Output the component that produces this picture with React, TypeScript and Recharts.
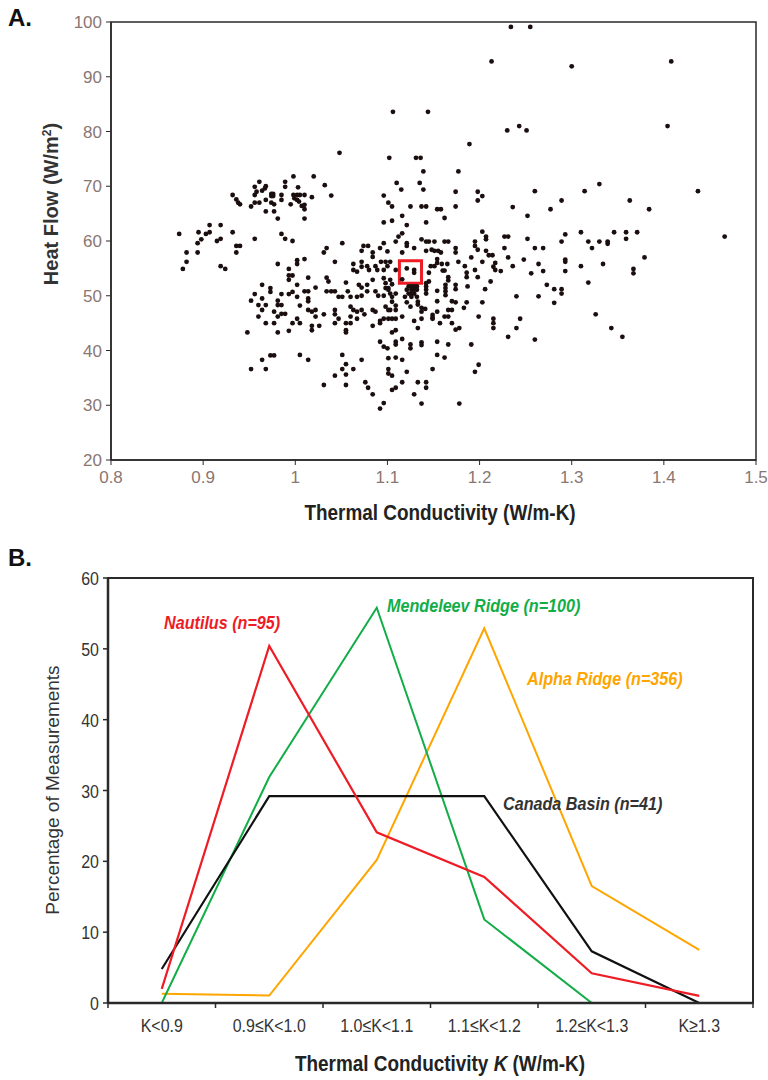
import React from 'react';
import { ScatterChart, Scatter, LineChart, Line, XAxis, YAxis, ReferenceArea } from 'recharts';

// ---- Panel A: thermal conductivity (W/m-K) vs heat flow ----
type Pt = [number, number];

const westUpper: Pt[] = [
  [0.874, 61.3], [0.882, 57.9], [0.882, 56.2], [0.878, 54.9], [0.895, 61.6], [0.894, 59.6], [0.894, 57.9],
  [0.898, 60.3], [0.903, 61.3], [0.907, 61.6], [0.907, 62.9], [0.915, 60.0], [0.919, 60.4], [0.919, 62.9],
  [0.932, 61.6], [0.936, 59.1], [0.94, 59.1], [0.936, 57.9], [0.919, 55.4], [0.924, 54.9], [0.956, 60.4],
  [0.932, 68.4], [0.936, 67.6], [0.938, 67.0], [0.94, 66.7], [0.952, 66.3], [0.956, 68.4], [0.958, 69.0],
  [0.961, 70.8], [0.956, 69.9], [0.956, 67.0], [0.961, 67.0], [0.964, 69.2], [0.967, 69.6], [0.968, 70.0],
  [0.968, 67.5], [0.968, 65.4], [0.974, 68.6], [0.976, 68.6], [0.974, 68.2], [0.976, 68.2], [0.974, 67.0],
  [0.977, 66.7], [0.977, 65.4], [0.981, 64.1], [0.985, 68.4], [0.985, 67.5], [0.989, 70.8], [0.989, 69.9],
  [0.995, 66.7], [0.998, 71.8], [0.998, 68.4], [0.999, 67.8], [0.985, 61.3], [0.989, 60.4], [0.997, 60.0],
  [0.981, 55.8], [0.993, 54.9], [0.993, 53.7], [0.997, 53.7], [0.993, 52.9], [0.964, 52.0], [0.973, 51.4],
];

const westLower: Pt[] = [
  [0.956, 50.3], [0.973, 50.7], [0.985, 50.3], [0.993, 50.3], [0.997, 50.7], [0.952, 49.1], [0.964, 49.5],
  [0.96, 48.3], [0.968, 48.3], [0.964, 47.4], [0.981, 49.1], [0.981, 48.3], [0.985, 48.3], [0.977, 47.1],
  [0.985, 46.7], [0.989, 46.7], [0.981, 46.2], [0.96, 46.2], [0.968, 45.0], [0.977, 45.0], [0.997, 45.0],
  [0.948, 43.3], [0.981, 43.3], [0.993, 43.6], [0.973, 39.1], [0.977, 39.1], [0.964, 38.3], [0.952, 36.6],
  [0.968, 36.6],
];

const centralUpper: Pt[] = [
  [1.002, 68.4], [1.005, 68.4], [1.01, 68.4], [1.002, 67.5], [1.004, 67.2], [1.007, 66.4], [1.01, 66.6],
  [1.01, 65.8], [1.018, 68.0], [1.039, 68.3], [1.096, 68.3], [1.101, 67.0], [1.105, 66.3], [1.01, 64.1],
  [1.096, 63.4], [1.105, 63.7], [1.051, 59.6], [1.034, 58.7], [1.031, 57.9], [1.043, 56.2], [1.074, 59.1],
  [1.079, 59.1], [1.072, 58.2], [1.084, 57.9], [1.084, 57.1], [1.096, 59.6], [1.092, 58.7], [1.1, 58.1],
  [1.109, 59.9], [1.112, 60.8], [1.002, 56.5], [1.01, 56.7], [1.002, 55.8], [1.063, 55.8], [1.072, 56.2],
  [1.078, 55.4], [1.087, 55.4], [1.093, 56.2], [1.098, 56.2], [1.103, 56.2], [1.063, 54.7], [1.067, 54.4],
  [1.072, 55.3], [1.08, 54.7], [1.089, 54.7], [1.096, 54.7], [1.1, 55.4], [1.109, 54.7], [1.014, 53.3],
  [1.034, 53.3], [1.036, 52.6], [1.055, 52.4], [1.069, 52.0], [1.072, 51.5], [1.078, 52.0], [1.084, 52.9],
  [1.096, 53.2], [1.098, 52.3], [1.103, 52.9], [1.105, 52.1], [1.098, 51.4], [1.101, 51.4], [1.002, 52.0],
  [1.022, 51.5], [1.01, 50.8], [1.014, 50.8], [1.034, 50.8], [1.039, 50.8], [1.043, 50.8], [1.047, 49.8],
  [1.051, 49.8], [1.057, 50.8], [1.06, 49.8], [1.067, 49.8], [1.072, 50.0], [1.078, 50.8], [1.087, 50.8],
  [1.09, 50.0], [1.096, 50.0], [1.101, 51.1], [1.103, 50.4], [1.109, 50.4], [1.105, 49.8], [1.002, 49.8],
  [1.014, 49.5],
];

const centralLower: Pt[] = [
  [1.005, 48.2], [1.014, 49.0], [1.014, 47.4], [1.018, 47.1], [1.022, 47.4], [1.022, 46.2], [1.031, 46.6],
  [1.002, 45.8], [1.005, 45.0], [1.018, 44.5], [1.018, 43.7], [1.026, 44.5], [1.043, 47.4], [1.043, 46.6],
  [1.047, 45.8], [1.043, 45.0], [1.055, 45.0], [1.06, 45.0], [1.055, 43.7], [1.055, 43.3], [1.06, 46.2],
  [1.06, 48.0], [1.063, 47.4], [1.067, 47.1], [1.067, 45.8], [1.072, 47.4], [1.075, 46.6], [1.084, 44.5],
  [1.084, 47.4], [1.087, 47.1], [1.092, 45.4], [1.092, 45.0], [1.096, 45.8], [1.101, 45.8], [1.105, 45.8],
  [1.109, 45.8], [1.103, 47.4], [1.109, 47.4], [1.101, 47.4], [1.098, 48.0], [1.105, 48.9], [1.109, 48.2],
  [1.109, 43.7], [1.105, 43.3], [1.109, 41.6], [1.109, 41.1], [1.092, 41.6], [1.096, 40.7], [1.1, 40.4],
  [1.005, 39.2], [1.014, 38.3], [1.051, 39.2], [1.072, 38.3], [1.055, 37.5], [1.051, 36.6], [1.055, 35.6],
  [1.063, 36.6], [1.043, 35.4], [1.101, 38.6], [1.109, 38.7], [1.101, 36.6], [1.101, 35.8], [1.105, 35.4],
  [1.031, 33.7], [1.055, 33.7], [1.076, 34.2], [1.079, 33.2], [1.084, 32.0], [1.105, 32.8], [1.109, 33.2],
  [1.096, 30.4], [1.092, 29.4],
];

const eastUpper: Pt[] = [
  [1.125, 66.3], [1.137, 66.3], [1.142, 66.3], [1.154, 65.8], [1.158, 65.8], [1.174, 66.3], [1.174, 69.0],
  [1.198, 69.0], [1.203, 68.2], [1.198, 67.4], [1.116, 64.6], [1.121, 62.9], [1.142, 63.4], [1.162, 64.2],
  [1.116, 61.4], [1.121, 59.6], [1.121, 59.1], [1.116, 57.9], [1.129, 58.7], [1.137, 60.3], [1.142, 59.9],
  [1.145, 59.9], [1.151, 59.9], [1.162, 59.9], [1.166, 59.9], [1.142, 58.2], [1.148, 58.4], [1.151, 58.2],
  [1.155, 58.2], [1.158, 57.9], [1.174, 58.7], [1.174, 57.9], [1.203, 61.7], [1.207, 60.8], [1.207, 60.3],
  [1.195, 59.9], [1.195, 59.1], [1.198, 58.4], [1.207, 58.2], [1.21, 57.4], [1.214, 57.4], [1.191, 57.0],
  [1.203, 56.2], [1.217, 56.0], [1.215, 55.3], [1.154, 56.7], [1.154, 56.0], [1.159, 55.8], [1.165, 55.8],
  [1.147, 55.4], [1.151, 55.4], [1.177, 56.2], [1.184, 55.4], [1.195, 54.7], [1.217, 54.7], [1.121, 55.0],
  [1.129, 54.7], [1.129, 54.2], [1.116, 53.0], [1.145, 54.2], [1.16, 54.6], [1.162, 54.6], [1.166, 53.4],
  [1.166, 52.8], [1.186, 54.2], [1.186, 53.4], [1.198, 53.4], [1.212, 52.6], [1.145, 52.6], [1.142, 52.3],
  [1.142, 51.7], [1.142, 51.1], [1.142, 50.4], [1.154, 50.9], [1.163, 52.0], [1.163, 51.4], [1.163, 50.8],
  [1.163, 50.1], [1.174, 52.0], [1.174, 51.2], [1.187, 51.7], [1.206, 51.2], [1.123, 51.7], [1.126, 51.7],
  [1.129, 51.7], [1.132, 51.7], [1.121, 51.1], [1.126, 51.1], [1.129, 51.1], [1.132, 51.1], [1.123, 50.4],
  [1.126, 50.4], [1.129, 50.4], [1.119, 49.8], [1.126, 49.8], [1.132, 49.8],
];

const eastLower: Pt[] = [
  [1.121, 48.8], [1.125, 48.0], [1.133, 48.9], [1.133, 48.4], [1.137, 47.8], [1.141, 47.6], [1.137, 47.1],
  [1.154, 49.0], [1.154, 47.1], [1.166, 47.4], [1.17, 47.4], [1.17, 49.0], [1.174, 48.8], [1.183, 47.8],
  [1.186, 48.8], [1.203, 48.8], [1.116, 46.2], [1.129, 45.4], [1.133, 44.1], [1.137, 45.8], [1.149, 46.5],
  [1.149, 46.0], [1.149, 45.8], [1.162, 46.2], [1.166, 46.2], [1.157, 45.0], [1.17, 45.0], [1.174, 43.8],
  [1.178, 44.1], [1.199, 46.2], [1.215, 45.8], [1.215, 45.0], [1.215, 44.1], [1.116, 42.1], [1.125, 41.1],
  [1.125, 40.4], [1.137, 41.5], [1.137, 41.0], [1.154, 41.6], [1.166, 41.1], [1.191, 41.1], [1.116, 38.3],
  [1.121, 36.1], [1.149, 36.6], [1.154, 39.2], [1.162, 38.7], [1.199, 37.4], [1.195, 36.1], [1.116, 34.2],
  [1.133, 34.2], [1.142, 34.2], [1.142, 33.2], [1.129, 32.0], [1.137, 30.3], [1.178, 30.3],
];

const farEast: Pt[] = [
  [1.26, 69.1], [1.314, 69.1], [1.33, 70.4], [1.437, 69.1], [1.236, 66.2], [1.252, 64.6], [1.277, 65.8],
  [1.289, 67.4], [1.363, 67.4], [1.384, 65.8], [1.227, 60.8], [1.231, 60.8], [1.252, 60.4], [1.293, 61.2],
  [1.289, 59.9], [1.31, 61.6], [1.318, 59.9], [1.33, 59.9], [1.339, 59.9], [1.339, 59.5], [1.346, 61.6],
  [1.359, 61.6], [1.371, 61.6], [1.359, 60.4], [1.322, 58.7], [1.466, 60.8], [1.227, 58.7], [1.26, 58.7],
  [1.269, 58.7], [1.231, 57.0], [1.248, 56.6], [1.293, 56.6], [1.293, 56.2], [1.379, 57.0], [1.223, 54.5],
  [1.236, 55.4], [1.256, 54.1], [1.264, 55.8], [1.269, 54.5], [1.293, 54.5], [1.31, 55.4], [1.334, 55.8],
  [1.367, 54.9], [1.367, 54.1], [1.273, 52.0], [1.281, 51.2], [1.289, 51.2], [1.289, 50.4], [1.318, 52.4],
  [1.24, 49.9], [1.264, 49.9], [1.281, 48.7], [1.244, 45.8], [1.24, 44.1], [1.231, 42.5], [1.26, 42.0],
  [1.326, 46.6], [1.343, 44.1], [1.355, 42.5],
];

const highValues: Pt[] = [
  [1.02, 71.8], [1.032, 70.2], [1.003, 69.8], [1.048, 76.1], [1.102, 75.2], [1.131, 75.2], [1.136, 75.2],
  [1.139, 72.7], [1.177, 72.7], [1.11, 70.6], [1.135, 70.6], [1.115, 69.4], [1.139, 69.4], [1.106, 83.6],
  [1.144, 83.6], [1.189, 77.7], [1.213, 92.8], [1.234, 99.1], [1.255, 99.1], [1.3, 91.9], [1.408, 92.8],
  [1.23, 80.2], [1.243, 81.0], [1.251, 80.2], [1.404, 81.0],
];

const kTicks = [0.8, 0.9, 1, 1.1, 1.2, 1.3, 1.4, 1.5];
const heatTicks = [20, 30, 40, 50, 60, 70, 80, 90, 100];
// highlighted cell (red square)
const boxK = [1.113, 1.137];
const boxQ = [52.3, 56.4];

// ---- Panel B: percentage of measurements per conductivity bin ----
const kBins = ['K<0.9', '0.9\u2264K<1.0', '1.0\u2264K<1.1', '1.1\u2264K<1.2', '1.2\u2264K<1.3', 'K\u22651.3'];
const nautilus = [2.0, 50.4, 24.1, 17.8, 4.2, 1.0];
const mendeleev = [0, 31.9, 55.8, 11.8, 0, 0];
const alphaRidge = [1.3, 1.05, 20.2, 52.9, 16.5, 7.5];
const canadaBasin = [4.8, 29.2, 29.2, 29.2, 7.3, 0];
const pctTicks = [0, 10, 20, 30, 40, 50, 60];

const scatterData = [...westUpper, ...westLower, ...centralUpper, ...centralLower, ...eastUpper, ...eastLower, ...farEast, ...highValues]
  .map(([k, q]) => ({ k, q }));

const binData = kBins.map((bin, i) => ({
  idx: i,
  bin,
  nautilus: nautilus[i],
  mendeleev: mendeleev[i],
  alpha: alphaRidge[i],
  canada: canadaBasin[i],
}));
const binEdges = kBins.map((_, i) => i - 0.5).concat(kBins.length - 0.5);

const SANS = "'Liberation Sans', Arial, Helvetica, sans-serif";

// panel B geometry (used to centre the bin labels between the edge ticks)
const B_MARGIN = { top: 38, right: 15, left: 58, bottom: 37 };
const B_YAXIS_W = 50;
const B_PLOT_W = 768 - B_MARGIN.left - B_MARGIN.right - B_YAXIS_W;
const HALF_BAND = B_PLOT_W / kBins.length / 2;

const abs = (s: React.CSSProperties): React.CSSProperties => ({
  position: 'absolute',
  whiteSpace: 'nowrap',
  lineHeight: 1,
  ...s,
});

const Dot = (p: any) => <circle cx={p.cx} cy={p.cy} r={2.4} fill="#1b0e0e" />;

// narrow tick text (Arial Narrow look)
const BinTick = (p: any) => {
  if (p.index >= kBins.length) return null;
  return (
    <text transform={`translate(${p.x + HALF_BAND},${p.y + 22}) scale(0.84,1)`} textAnchor="middle" fill="#333" fontSize={19} fontFamily={SANS}>
      {kBins[p.index]}
    </text>
  );
};

const PctTick = (p: any) => (
  <text transform={`translate(${p.x},${p.y + 7}) scale(0.84,1)`} textAnchor="end" fill="#333" fontSize={19} fontFamily={SANS}>
    {p.payload.value}
  </text>
);

const seriesLabel = (color: string): React.CSSProperties => ({
  fontFamily: SANS,
  fontWeight: 700,
  fontStyle: 'italic',
  fontSize: 19,
  color,
  transform: 'translateY(-50%) scaleX(0.85)',
  transformOrigin: 'left center',
});

export default function App() {
  return (
    <div style={{ position: 'absolute', left: 0, top: 0, width: 768, height: 1080, background: '#fff', overflow: 'hidden' }}>
      {/* Panel A */}
      <div style={{ position: 'absolute', left: 0, top: 0 }}>
        <ScatterChart width={768} height={540} margin={{ top: 22, right: 12, left: 55, bottom: 40 }}>
          <XAxis
            type="number"
            dataKey="k"
            domain={[0.8, 1.5]}
            ticks={kTicks}
            interval={0}
            height={40}
            tickSize={5}
            tickMargin={6}
            axisLine={{ stroke: '#2a2a2a', strokeWidth: 1.5 }}
            tickLine={{ stroke: '#2a2a2a' }}
            tick={{ fill: '#8a7672', fontSize: 17, fontFamily: SANS }}
            allowDataOverflow
          />
          <YAxis
            type="number"
            dataKey="q"
            domain={[20, 100]}
            ticks={heatTicks}
            interval={0}
            width={56}
            tickSize={5}
            tickMargin={4}
            axisLine={{ stroke: '#2a2a2a', strokeWidth: 1.5 }}
            tickLine={{ stroke: '#2a2a2a' }}
            tick={{ fill: '#8a7672', fontSize: 17, fontFamily: SANS }}
            allowDataOverflow
          />
          <ReferenceArea x1={0.8} x2={1.5} y1={20} y2={100} fill="none" stroke="#2a2a2a" strokeWidth={1.5} />
          <Scatter data={scatterData} shape={Dot} isAnimationActive={false} />
          <ReferenceArea x1={boxK[0]} x2={boxK[1]} y1={boxQ[0]} y2={boxQ[1]} fill="none" stroke="#ee1c25" strokeWidth={3} />
        </ScatterChart>
      </div>

      {/* Panel B */}
      <div style={{ position: 'absolute', left: 0, top: 540 }}>
        <LineChart width={768} height={540} data={binData} margin={B_MARGIN}>
          <XAxis
            type="number"
            dataKey="idx"
            domain={[-0.5, kBins.length - 0.5]}
            ticks={binEdges}
            interval={0}
            tick={BinTick}
            tickSize={5}
            tickMargin={2}
            height={40}
            axisLine={{ stroke: '#2a2a2a', strokeWidth: 2.5 }}
            tickLine={{ stroke: '#2a2a2a', strokeWidth: 1.5 }}
            allowDataOverflow
          />
          <YAxis
            type="number"
            domain={[0, 60]}
            ticks={pctTicks}
            interval={0}
            width={B_YAXIS_W}
            tickSize={5}
            tickMargin={4}
            tick={PctTick}
            axisLine={{ stroke: '#2a2a2a', strokeWidth: 2.5 }}
            tickLine={{ stroke: '#2a2a2a', strokeWidth: 1.5 }}
            allowDataOverflow
          />
          <ReferenceArea x1={-0.5} x2={kBins.length - 0.5} y1={0} y2={60} fill="none" stroke="#2a2a2a" strokeWidth={2} />
          <Line dataKey="alpha" stroke="#ffa500" strokeWidth={2} dot={false} isAnimationActive={false} />
          <Line dataKey="mendeleev" stroke="#13ad48" strokeWidth={2} dot={false} isAnimationActive={false} />
          <Line dataKey="canada" stroke="#111" strokeWidth={2.2} dot={false} isAnimationActive={false} />
          <Line dataKey="nautilus" stroke="#ee1c25" strokeWidth={2.2} dot={false} isAnimationActive={false} />
        </LineChart>
      </div>

      {/* titles and annotations */}
      <div style={abs({ left: 8, top: 6, fontFamily: SANS, fontWeight: 700, fontSize: 24, color: '#111' })}>A.</div>
      <div style={abs({ left: 51, top: 204, transform: 'translate(-50%,-50%) rotate(-90deg)', fontFamily: SANS, fontWeight: 700, fontSize: 20, color: '#333' })}>
        Heat Flow (W/m<sup style={{ fontSize: 12 }}>2</sup>)
      </div>
      <div style={abs({ left: 440, top: 513, transform: 'translate(-50%,-50%) scaleX(0.86)', fontFamily: SANS, fontWeight: 700, fontSize: 22, color: '#222' })}>
        Thermal Conductivity (W/m-K)
      </div>

      <div style={abs({ left: 8, top: 546, fontFamily: SANS, fontWeight: 700, fontSize: 24, color: '#111' })}>B.</div>
      <div style={abs({ left: 52, top: 790, transform: 'translate(-50%,-50%) rotate(-90deg)', fontFamily: SANS, fontSize: 19, color: '#333' })}>
        Percentage of Measurements
      </div>
      <div style={abs({ left: 440, top: 1064, transform: 'translate(-50%,-50%) scaleX(0.86)', fontFamily: SANS, fontWeight: 700, fontSize: 22, color: '#222' })}>
        Thermal Conductivity <i>K</i> (W/m-K)
      </div>

      <div style={abs({ left: 164, top: 622, ...seriesLabel('#ee1c25') })}>Nautilus (n=95)</div>
      <div style={abs({ left: 387, top: 605, ...seriesLabel('#13ad48') })}>Mendeleev Ridge (n=100)</div>
      <div style={abs({ left: 527, top: 678, ...seriesLabel('#ffa500') })}>Alpha Ridge (n=356)</div>
      <div style={abs({ left: 503, top: 803, ...seriesLabel('#333') })}>Canada Basin (n=41)</div>
    </div>
  );
}
